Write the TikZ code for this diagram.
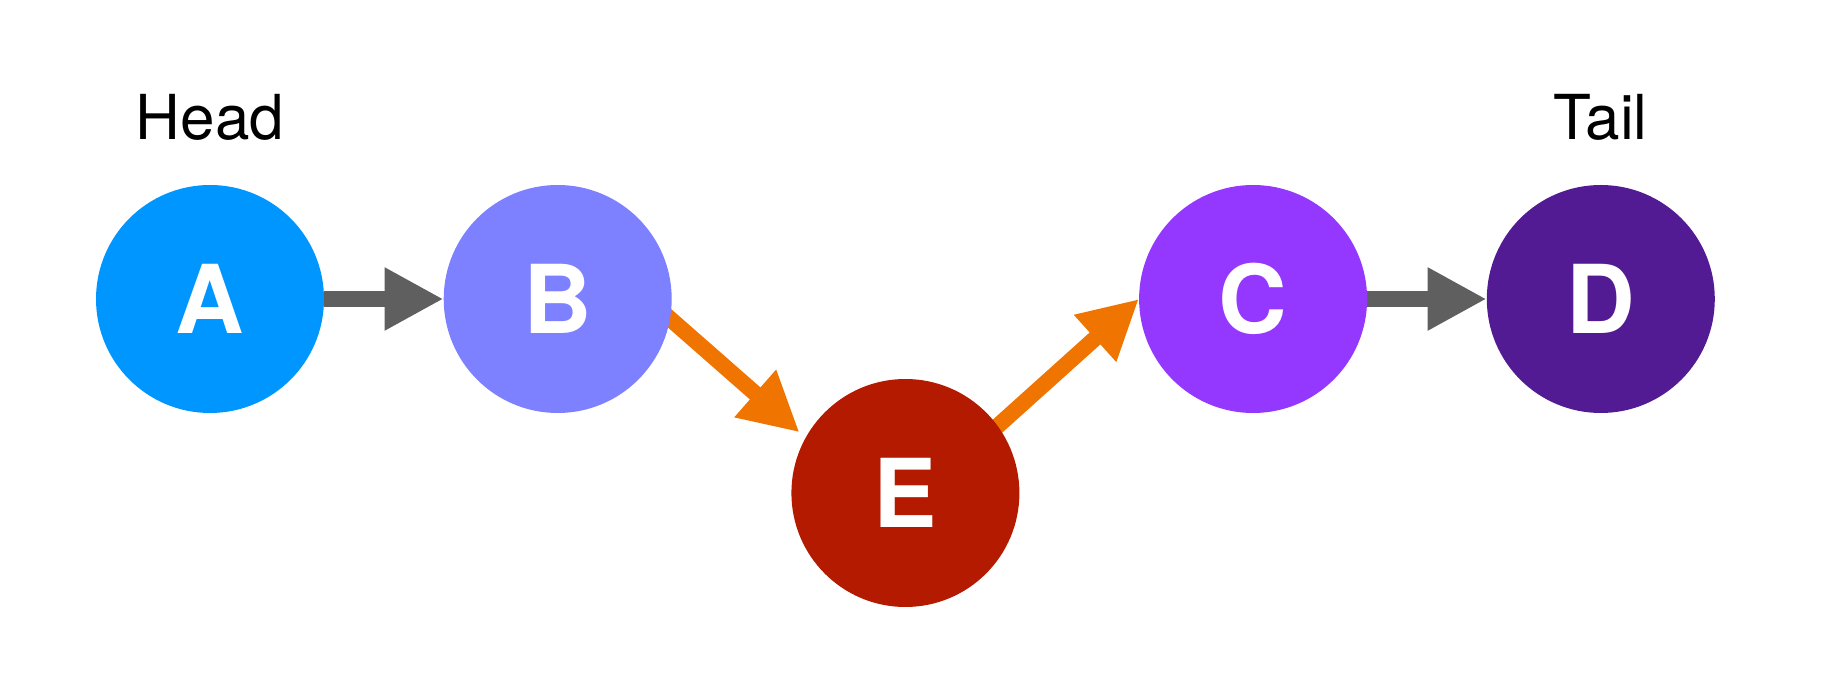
\documentclass[tikz,border=0pt]{standalone}
\usepackage{fontspec}
\setmainfont{TeX Gyre Heros}
\usetikzlibrary{positioning,arrows.meta,backgrounds}

\definecolor{nodeA}{HTML}{0096FF}
\definecolor{nodeB}{HTML}{7D81FF}
\definecolor{nodeC}{HTML}{9437FF}
\definecolor{nodeD}{HTML}{531B93}
\definecolor{nodeE}{HTML}{B41A00}
\definecolor{linkgray}{HTML}{5F5F5F}
\definecolor{linkorange}{HTML}{F07400}

\begin{document}
\begin{tikzpicture}[x=1pt,y=1pt,
  vertex/.style={circle,minimum size=228pt,inner sep=0pt,text=white,font=\fontsize{95}{95}\selectfont\bfseries},
  tag/.style={inner sep=0pt,font=\fontsize{62}{62}\selectfont},
  link/.style={line width=16pt,-{Triangle[length=59pt,width=59pt]}}]
  \def\dx{347.7}
  \def\yTop{389}
  \def\yLow{195}

  % Frame
  \useasboundingbox (0,0) rectangle (1838,688);

  % Nodes
  \node[vertex,fill=nodeA] (A) at (210,\yTop) {A};
  \node[vertex,fill=nodeB] (B) at ({210+\dx},\yTop) {B};
  \node[vertex,fill=nodeE] (E) at ({210+2*\dx},\yLow) {E};
  \node[vertex,fill=nodeC] (C) at ({210+3*\dx},\yTop) {C};
  \node[vertex,fill=nodeD] (D) at ({210+4*\dx},\yTop) {D};

  % Labels
  \node[tag,above=44pt of A] (head) {Head};
  \node[tag,above=44pt of D] (tail) {Tail};

  % Links
  \begin{scope}[on background layer]
    \draw[link,linkgray] (A.east) -- (B.west);
    \draw[link,linkorange,shorten <=-12pt,shorten >=8pt] (B.-10) -- (E.151);
    \draw[link,linkorange,shorten <=-12pt] (E.36) -- (C.west);
    \draw[link,linkgray] (C.east) -- (D.west);
  \end{scope}
\end{tikzpicture}
\end{document}
